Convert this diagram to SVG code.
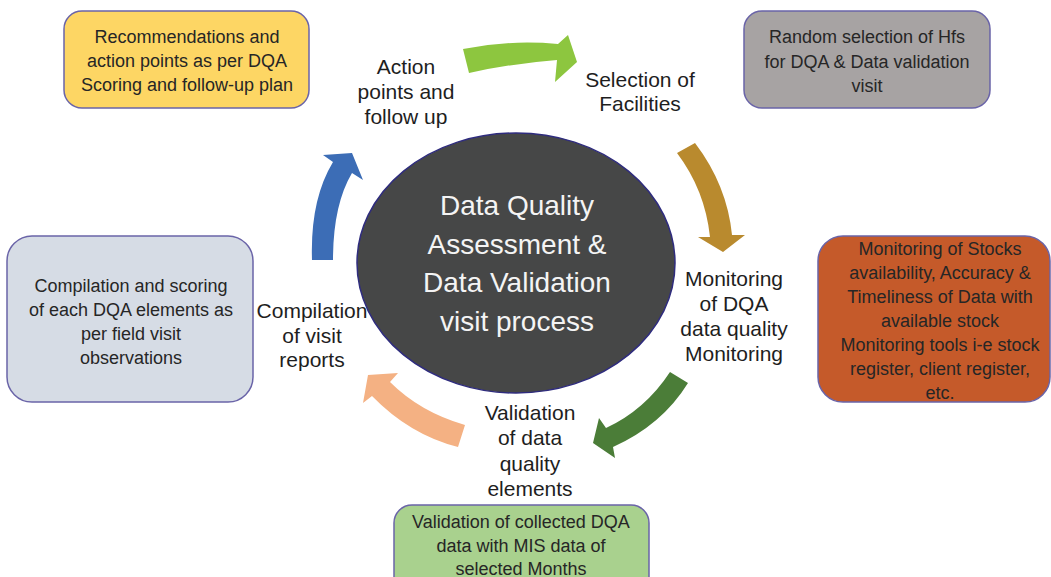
<svg xmlns="http://www.w3.org/2000/svg" width="1051" height="577" viewBox="0 0 1051 577">
<style>
.box{stroke:#6A64A8;stroke-width:1.5}
.bt{font-family:"Liberation Sans",Arial,sans-serif;font-size:18px;fill:#262626;text-anchor:middle}
.lbl{font-family:"Liberation Sans",Arial,sans-serif;font-size:21px;fill:#1e1e1e;text-anchor:middle}
.ct{font-family:"Liberation Sans",Arial,sans-serif;font-size:28px;fill:#F4F4F4;text-anchor:middle}
</style>
<rect width="1051" height="577" fill="#ffffff"/>
<g id="connectors">
<path id="arrow-top" d="M 463,49 Q 510,39.5 558,44 L 568,35 L 577,62 L 555,82 L 557,60 Q 512,63.5 469,73 Z" fill="#8DC63F"/>
<path id="arrow-right-top" d="M 695,143 Q 727,185 732,235 L 745,235 L 723,252 L 698,237 L 710,237 Q 705,190 677,153 Z" fill="#B98A2E"/>
<path id="arrow-right-bottom" d="M 670,372 Q 645,410 606,428 L 599,418 L 593,443 L 615,458 L 613,447 Q 662,425 688,383 Z" fill="#4B7D38"/>
<path id="arrow-bottom-left" d="M 465,425 Q 420,412 390,382 L 398,373 L 368,375 L 363,403 L 372,396 Q 410,435 458,447 Z" fill="#F4B183"/>
<path id="arrow-left" d="M 312,260 Q 310,200 333,162 L 323,155 L 352,153 L 363,180 L 352,173 Q 333,205 333,260 Z" fill="#3C6DB6"/>
</g>
<g id="center">
<ellipse cx="516" cy="263" rx="159" ry="130" fill="#464747" stroke="#2F2C7E" stroke-width="1.5"/>
<text class="ct" x="517" y="215">Data Quality</text>
<text class="ct" x="517" y="254">Assessment &amp;</text>
<text class="ct" x="517" y="292">Data Validation</text>
<text class="ct" x="517" y="331">visit process</text>
</g>
<g id="box-recommendations">
<rect class="box" x="64" y="11" width="245" height="97" rx="18" fill="#FDD664"/>
<text class="bt" x="187" y="43">Recommendations and</text>
<text class="bt" x="187" y="67">action points as per DQA</text>
<text class="bt" x="187" y="91">Scoring and follow-up plan</text>
</g>
<g id="box-random">
<rect class="box" x="744" y="11" width="246" height="97" rx="18" fill="#A7A3A3"/>
<text class="bt" x="867" y="43">Random selection of Hfs</text>
<text class="bt" x="867" y="68">for DQA &amp; Data validation</text>
<text class="bt" x="867" y="92">visit</text>
</g>
<g id="box-monitoring">
<rect class="box" x="818" y="236" width="232" height="166" rx="25" fill="#C55A2A"/>
<text class="bt" x="940" y="255">Monitoring of Stocks</text>
<text class="bt" x="940" y="279">availability, Accuracy &amp;</text>
<text class="bt" x="940" y="303">Timeliness of Data with</text>
<text class="bt" x="940" y="327">available stock</text>
<text class="bt" x="940" y="351">Monitoring tools i-e stock</text>
<text class="bt" x="940" y="375">register, client register,</text>
<text class="bt" x="940" y="399">etc.</text>
</g>
<g id="box-validation">
<rect class="box" x="394" y="505" width="255" height="90" rx="18" fill="#A9D18E"/>
<text class="bt" x="521" y="528">Validation of collected DQA</text>
<text class="bt" x="521" y="552">data with MIS data of</text>
<text class="bt" x="521" y="575">selected Months</text>
</g>
<g id="box-compilation">
<rect class="box" x="7" y="236" width="246" height="166" rx="25" fill="#D6DCE5"/>
<text class="bt" x="131" y="292">Compilation and scoring</text>
<text class="bt" x="131" y="316">of each DQA elements as</text>
<text class="bt" x="131" y="340">per field visit</text>
<text class="bt" x="131" y="364">observations</text>
</g>
<g id="label-action">
<text class="lbl" x="406" y="74">Action</text>
<text class="lbl" x="406" y="99">points and</text>
<text class="lbl" x="406" y="124">follow up</text>
</g>
<g id="label-selection">
<text class="lbl" x="640" y="87">Selection of</text>
<text class="lbl" x="640" y="111">Facilities</text>
</g>
<g id="label-monitoring">
<text class="lbl" x="734" y="286">Monitoring</text>
<text class="lbl" x="734" y="311">of DQA</text>
<text class="lbl" x="734" y="336">data quality</text>
<text class="lbl" x="734" y="361">Monitoring</text>
</g>
<g id="label-validation">
<text class="lbl" x="530" y="420">Validation</text>
<text class="lbl" x="530" y="445">of data</text>
<text class="lbl" x="530" y="471">quality</text>
<text class="lbl" x="530" y="496">elements</text>
</g>
<g id="label-compilation">
<text class="lbl" x="312" y="318">Compilation</text>
<text class="lbl" x="312" y="343">of visit</text>
<text class="lbl" x="312" y="367">reports</text>
</g>
</svg>
